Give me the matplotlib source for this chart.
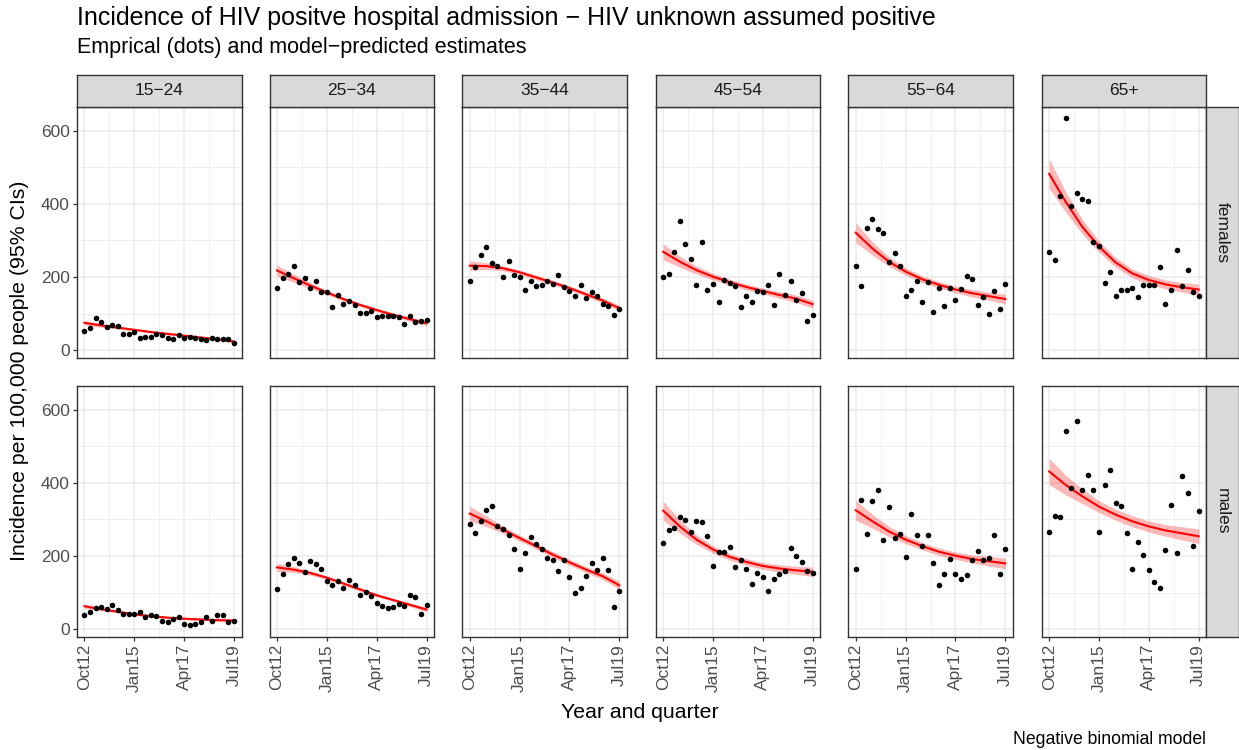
import matplotlib
matplotlib.use("Agg")
import matplotlib.pyplot as plt
import numpy as np

plt.rcParams['font.family'] = ['Liberation Sans', 'DejaVu Sans']

ages = ["15\u221224", "25\u221234", "35\u221244", "45\u221254", "55\u221264", "65+"]
sexes = ["females", "males"]

# quarters Oct12 .. Jul19 (28 quarters)
n_q = 28
tick_q = [0, 9, 18, 27]
tick_labels = ["Oct12", "Jan15", "Apr17", "Jul19"]

# empirical incidence per 100,000 (dots)
f_15_24 = [52, 60, 89, 78, 63, 69, 66, 45, 45, 51, 35, 37, 37, 44, 41, 34, 32, 43, 35, 37, 35, 31, 27, 34, 30, 32, 30, 21]
f_25_34 = [169, 197, 209, 231, 186, 198, 170, 189, 159, 159, 118, 150, 126, 136, 125, 103, 103, 106, 92, 94, 94, 94, 92, 72, 94, 76, 81, 83]
f_35_44 = [188, 228, 259, 282, 238, 230, 199, 245, 206, 199, 165, 189, 176, 179, 190, 181, 206, 174, 163, 148, 177, 142, 159, 147, 127, 122, 96, 113]
f_45_54 = [200, 208, 268, 352, 291, 249, 179, 295, 164, 182, 132, 193, 184, 176, 118, 148, 133, 163, 159, 178, 125, 209, 150, 189, 138, 156, 81, 96]
f_55_64 = [230, 175, 335, 359, 330, 321, 240, 265, 231, 147, 164, 189, 131, 186, 105, 171, 122, 170, 138, 167, 202, 196, 123, 146, 99, 161, 114, 182]
f_65 = [269, 247, 422, 634, 393, 430, 413, 409, 296, 286, 183, 213, 149, 166, 165, 169, 145, 179, 177, 177, 227, 127, 166, 273, 175, 218, 160, 149]
m_15_24 = [40, 48, 58, 60, 56, 66, 54, 43, 43, 41, 48, 34, 40, 36, 23, 20, 29, 34, 15, 11, 15, 21, 33, 23, 40, 40, 19, 22]
m_25_34 = [111, 152, 177, 195, 180, 157, 187, 177, 165, 133, 120, 132, 114, 134, 120, 93, 102, 92, 73, 64, 57, 60, 70, 64, 93, 87, 42, 67]
m_35_44 = [288, 263, 295, 325, 338, 281, 275, 258, 220, 166, 208, 252, 232, 220, 196, 189, 160, 190, 142, 100, 112, 146, 181, 163, 195, 161, 62, 105]
m_45_54 = [236, 271, 277, 306, 299, 266, 296, 293, 254, 174, 210, 211, 225, 170, 189, 166, 125, 154, 143, 104, 138, 151, 160, 221, 199, 184, 158, 153]
m_55_64 = [166, 352, 260, 351, 380, 245, 333, 249, 261, 198, 316, 258, 227, 257, 182, 121, 151, 192, 150, 137, 149, 189, 213, 189, 194, 257, 151, 220]
m_65 = [266, 310, 307, 541, 385, 569, 381, 422, 380, 267, 395, 434, 346, 336, 264, 165, 239, 204, 161, 128, 112, 217, 340, 208, 419, 371, 228, 322]

# model-predicted values, read every 3rd quarter (q0, q3, ..., q27)
fit_q = [0, 3, 6, 9, 12, 15, 18, 21, 24, 27]
fit_f_15_24 = [75, 68, 62, 56, 50, 45, 40, 35, 30, 24]
fit_f_25_34 = [218, 197, 177, 158, 140, 124, 110, 97, 85, 74]
fit_f_35_44 = [231, 230, 224, 213, 199, 185, 170, 153, 136, 115]
fit_f_45_54 = [269, 242, 219, 201, 186, 173, 162, 151, 141, 126]
fit_f_55_64 = [321, 278, 242, 215, 194, 179, 166, 156, 148, 140]
fit_f_65 = [482, 405, 337, 283, 240, 210, 192, 180, 172, 166]
fit_m_15_24 = [63, 55, 48, 41, 36, 32, 29, 27, 25, 24]
fit_m_25_34 = [169, 163, 154, 141, 125, 109, 93, 80, 67, 54]
fit_m_35_44 = [316, 295, 272, 249, 227, 204, 183, 163, 145, 120]
fit_m_45_54 = [324, 281, 245, 218, 198, 184, 173, 166, 161, 157]
fit_m_55_64 = [325, 295, 267, 245, 227, 212, 201, 192, 186, 180]
fit_m_65 = [431, 394, 363, 335, 313, 295, 281, 270, 262, 254]

# 95% CI half-widths at the same quarters
ci_f_15_24 = [6, 5, 4, 3, 3, 3, 3, 3, 3, 4]
ci_f_25_34 = [15, 11, 8, 6, 5, 5, 5, 5, 6, 7]
ci_f_35_44 = [13, 9, 7, 6, 6, 6, 6, 6, 7, 8]
ci_f_45_54 = [22, 15, 11, 9, 8, 8, 8, 9, 10, 11]
ci_f_55_64 = [27, 18, 13, 10, 9, 9, 9, 10, 11, 13]
ci_f_65 = [40, 28, 20, 15, 13, 12, 12, 12, 13, 15]
ci_m_15_24 = [6, 4, 3, 3, 3, 3, 3, 3, 3, 4]
ci_m_25_34 = [11, 8, 6, 5, 5, 5, 4, 4, 5, 6]
ci_m_35_44 = [20, 14, 10, 8, 8, 8, 8, 8, 9, 11]
ci_m_45_54 = [26, 18, 13, 10, 9, 9, 9, 10, 11, 13]
ci_m_55_64 = [27, 19, 14, 11, 10, 10, 10, 11, 13, 15]
ci_m_65 = [36, 27, 20, 16, 15, 15, 15, 16, 18, 20]

points = [[f_15_24, f_25_34, f_35_44, f_45_54, f_55_64, f_65],
          [m_15_24, m_25_34, m_35_44, m_45_54, m_55_64, m_65]]
fits = [[fit_f_15_24, fit_f_25_34, fit_f_35_44, fit_f_45_54, fit_f_55_64, fit_f_65],
        [fit_m_15_24, fit_m_25_34, fit_m_35_44, fit_m_45_54, fit_m_55_64, fit_m_65]]
cis = [[ci_f_15_24, ci_f_25_34, ci_f_35_44, ci_f_45_54, ci_f_55_64, ci_f_65],
       [ci_m_15_24, ci_m_25_34, ci_m_35_44, ci_m_45_54, ci_m_55_64, ci_m_65]]

W, H = 1239, 750
fig = plt.figure(figsize=(W / 100, H / 100), dpi=100)

def box(x0, y0, x1, y1):
    return [x0 / W, 1 - y1 / H, (x1 - x0) / W, (y1 - y0) / H]

col_left = [77, 269.5, 462.3, 655.7, 848.3, 1041.7]
pw = 164.5
row_top = [106.7, 385.7]
ph = 251
dark = '#333333'

allv = np.concatenate([np.array(p) for row in points for p in row])
lo, hi = allv.min(), allv.max()
ylim = (lo - 0.05 * (hi - lo), hi + 0.05 * (hi - lo))
xlim = (-0.05 * (n_q - 1), (n_q - 1) * 1.05)

for r in range(2):
    for c in range(6):
        ax = fig.add_axes(box(col_left[c], row_top[r], col_left[c] + pw, row_top[r] + ph))
        q = np.arange(n_q)
        fq = np.array(fit_q)
        fv = np.array(fits[r][c])
        hw = np.array(cis[r][c])
        ax.fill_between(fq, fv - hw, fv + hw, color='red', alpha=0.28, lw=0, zorder=2)
        ax.plot(fq, fv, color='red', lw=1.5, zorder=3)
        ax.scatter(q, points[r][c], s=16, color='black', lw=0, zorder=4)
        ax.set_xlim(xlim)
        ax.set_ylim(ylim)
        ax.set_xticks(tick_q)
        ax.set_xticks([4.5, 13.5, 22.5], minor=True)
        ax.set_yticks([0, 200, 400, 600])
        ax.set_yticks([100, 300, 500], minor=True)
        ax.grid(True, which='major', color='#EBEBEB', lw=1.1, zorder=0)
        ax.grid(True, which='minor', color='#EBEBEB', lw=0.55, zorder=0)
        ax.set_axisbelow(True)
        for s in ax.spines.values():
            s.set_color(dark)
            s.set_linewidth(1.0)
        ax.tick_params(which='major', length=3.2, width=0.9, color=dark,
                       labelsize=12.5, labelcolor='#4D4D4D', pad=2)
        ax.tick_params(which='minor', length=0)
        if c == 0:
            ax.set_yticklabels(["0", "200", "400", "600"])
        else:
            ax.tick_params(axis='y', which='major', length=0, labelleft=False)
        if r == 1:
            ax.set_xticklabels(tick_labels, rotation=90)
        else:
            ax.tick_params(axis='x', which='major', length=0, labelbottom=False)

        if r == 0:
            sax = fig.add_axes(box(col_left[c], 75, col_left[c] + pw, 106.7))
            sax.set_facecolor('#D9D9D9')
            sax.set_xticks([]); sax.set_yticks([])
            for s in sax.spines.values():
                s.set_color(dark); s.set_linewidth(1.0)
            sax.text(0.5, 0.5, ages[c], ha='center', va='center', fontsize=12.5,
                     color='#1A1A1A', transform=sax.transAxes)
    rax = fig.add_axes(box(col_left[5] + pw, row_top[r], 1238.5, row_top[r] + ph))
    rax.set_facecolor('#D9D9D9')
    rax.set_xticks([]); rax.set_yticks([])
    for s in rax.spines.values():
        s.set_color(dark); s.set_linewidth(1.0)
    rax.text(0.5, 0.5, sexes[r], ha='center', va='center', rotation=-90,
             fontsize=12.5, color='#1A1A1A', transform=rax.transAxes)

fig.text(77 / W, 1 - 18 / H, "Incidence of HIV positve hospital admission \u2212 HIV unknown assumed positive",
         ha='left', va='center', fontsize=18, color='black')
fig.text(77 / W, 1 - 48 / H, "Emprical (dots) and model\u2212predicted estimates",
         ha='left', va='center', fontsize=15.5, color='black')
fig.text(20 / W, 1 - 371 / H, "Incidence per 100,000 people (95% CIs)", rotation=90,
         ha='center', va='center', fontsize=15.3, color='black')
fig.text(640 / W, 1 - 712 / H, "Year and quarter", ha='center', va='center',
         fontsize=15.3, color='black')
fig.text(1206 / W, 1 - 740 / H, "Negative binomial model", ha='right', va='center',
         fontsize=12.7, color='black')

fig.savefig("out.png", dpi=100)
